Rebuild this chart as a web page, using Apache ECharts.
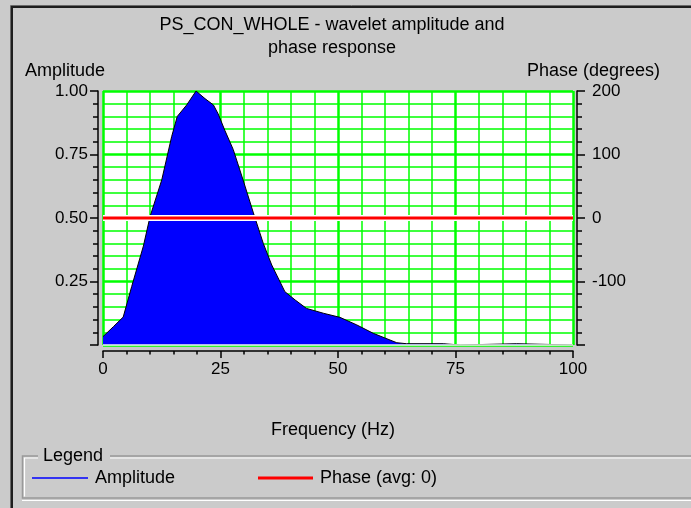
<!DOCTYPE html>
<html>
<head>
<meta charset="utf-8">
<script src="https://cdn.jsdelivr.net/npm/echarts@6/dist/echarts.min.js"></script>
<style>
  html, body { margin: 0; padding: 0; background: #cbcbcb; }
  #chart { width: 691px; height: 508px; }
</style>
</head>
<body>
<div id="chart"></div>
<script>
// Wavelet amplitude spectrum (normalised) versus frequency
const freqHz = [0, 2.2, 4.3, 6.1, 8.6, 10, 12.5, 14.6, 15.8, 17.8, 19.8, 21.7, 23.5, 24.5, 25.9, 27.7, 29.8, 32, 34.1, 35.9, 38.7, 40.9, 43.3, 46.9, 50.4, 54, 57.5, 62.5, 64.6, 72.4, 72.5, 76, 76.1, 88, 88.1, 100];
const amplitude = [0.033, 0.072, 0.11, 0.23, 0.39, 0.505, 0.65, 0.82, 0.90, 0.945, 1.0, 0.97, 0.945, 0.91, 0.846, 0.77, 0.65, 0.52, 0.40, 0.315, 0.21, 0.177, 0.144, 0.125, 0.109, 0.079, 0.046, 0.009, 0.005, 0.005, 0, 0, 0.005, 0.005, 0, 0];

// Phase response (constant)
const phaseFreq = [0, 100];
const phaseDeg = [0, 0];

const titleLines = ['PS_CON_WHOLE - wavelet amplitude and', 'phase response'];
const legendLabels = ['Amplitude', 'Phase (avg: 0)'];

const FONT = '"Liberation Sans", Arial, sans-serif';
const GREEN = '#00ff00';

const ampData = freqHz.map((f, i) => [f, amplitude[i]]);
const phaseData = phaseFreq.map((f, i) => [f, phaseDeg[i]]);

const chart = echarts.init(document.getElementById('chart'), null, { renderer: 'canvas' });

const tickStyle = { color: '#000', width: 1.5 };

chart.setOption({
  backgroundColor: '#cbcbcb',
  animation: false,
  title: {
    text: titleLines.join('\n'),
    left: 327,
    top: 9,
    textAlign: 'center',
    textStyle: { fontFamily: FONT, fontSize: 18, fontWeight: 'normal', color: '#000', lineHeight: 23 }
  },
  grid: { left: 103, right: 118, top: 91, bottom: 163, show: true, backgroundColor: '#ffffff', borderWidth: 0 },
  xAxis: {
    type: 'value', min: 0, max: 100, interval: 25, offset: 6,
    axisLine: { show: true, onZero: false, lineStyle: tickStyle },
    axisTick: { show: true, length: 7, lineStyle: tickStyle },
    minorTick: { show: true, splitNumber: 5, length: 3.5, lineStyle: tickStyle },
    axisLabel: { margin: 10, fontFamily: FONT, fontSize: 17, color: '#000' },
    splitLine: { show: true, lineStyle: { color: GREEN, width: 2.5 } },
    minorSplitLine: { show: true, lineStyle: { color: GREEN, width: 1.5 } }
  },
  yAxis: [
    {
      type: 'value', min: 0, max: 1, interval: 0.25, position: 'left', offset: 5,
      axisLine: { show: true, onZero: false, lineStyle: tickStyle },
      axisTick: { show: true, length: 8, lineStyle: tickStyle },
      minorTick: { show: true, splitNumber: 5, length: 5, lineStyle: tickStyle },
      axisLabel: { margin: 10, fontFamily: FONT, fontSize: 17, color: '#000', showMinLabel: false,
                   formatter: v => v.toFixed(2) },
      splitLine: { show: true, lineStyle: { color: GREEN, width: 2.5 } },
      minorSplitLine: { show: true, lineStyle: { color: GREEN, width: 1.5 } }
    },
    {
      type: 'value', min: -200, max: 200, interval: 100, position: 'right', offset: 4,
      axisLine: { show: true, onZero: false, lineStyle: tickStyle },
      axisTick: { show: true, length: 8, lineStyle: tickStyle },
      minorTick: { show: true, splitNumber: 5, length: 5, lineStyle: tickStyle },
      axisLabel: { margin: 15, fontFamily: FONT, fontSize: 17, color: '#000', showMinLabel: false },
      splitLine: { show: false }
    }
  ],
  series: [
    {
      name: 'Amplitude', type: 'line', data: ampData, xAxisIndex: 0, yAxisIndex: 0,
      symbol: 'none', z: 2,
      lineStyle: { color: '#000', width: 1 },
      areaStyle: { color: '#0000ff', opacity: 1 },
      markLine: {
        silent: true, symbol: 'none', label: { show: false },
        lineStyle: { color: '#f4f4f4', width: 1.5, type: 'solid' },
        data: [{ yAxis: 0 }]
      }
    },
    {
      name: 'PhaseHalo', type: 'line', data: phaseData, yAxisIndex: 1,
      symbol: 'none', z: 3, silent: true,
      lineStyle: { color: '#ffffff', width: 6 }
    },
    {
      name: 'Phase', type: 'line', data: phaseData, yAxisIndex: 1,
      symbol: 'none', z: 4,
      lineStyle: { color: '#ff0000', width: 3 }
    }
  ],
  graphic: [
    // panel frame
    { type: 'polyline', silent: true, shape: { points: [[10.5, 700], [10.5, 5.5], [700, 5.5]] },
      style: { stroke: '#6a6a6a', lineWidth: 1, fill: null } },
    { type: 'polyline', silent: true, shape: { points: [[12, 700], [12, 7], [700, 7]] },
      style: { stroke: '#1e1e1e', lineWidth: 2, fill: null } },
    // axis titles
    { type: 'text', silent: true, x: 25, y: 71,
      style: { text: 'Amplitude', font: '18px ' + FONT, fill: '#000', align: 'left', verticalAlign: 'middle' } },
    { type: 'text', silent: true, x: 660, y: 71,
      style: { text: 'Phase (degrees)', font: '18px ' + FONT, fill: '#000', align: 'right', verticalAlign: 'middle' } },
    { type: 'text', silent: true, x: 333, y: 430,
      style: { text: 'Frequency (Hz)', font: '18px ' + FONT, fill: '#000', align: 'center', verticalAlign: 'middle' } },
    // legend group box (etched)
    { type: 'polyline', silent: true, shape: { points: [[38, 456], [22.5, 456], [22.5, 498], [700, 498]] },
      style: { stroke: '#999999', lineWidth: 1.5, fill: null } },
    { type: 'line', silent: true, shape: { x1: 110, y1: 456, x2: 700, y2: 456 },
      style: { stroke: '#999999', lineWidth: 1.5 } },
    { type: 'polyline', silent: true, shape: { points: [[38, 458], [24.5, 458], [24.5, 496.5]] },
      style: { stroke: '#ffffff', lineWidth: 1.2, fill: null } },
    { type: 'line', silent: true, shape: { x1: 110, y1: 458, x2: 700, y2: 458 },
      style: { stroke: '#ffffff', lineWidth: 1.2 } },
    { type: 'line', silent: true, shape: { x1: 22, y1: 500.5, x2: 700, y2: 500.5 },
      style: { stroke: '#ffffff', lineWidth: 1.2 } },
    { type: 'text', silent: true, x: 43, y: 456,
      style: { text: 'Legend', font: '18px ' + FONT, fill: '#000', align: 'left', verticalAlign: 'middle' } },
    // legend entries
    { type: 'line', silent: true, shape: { x1: 32, y1: 478, x2: 88, y2: 478 },
      style: { stroke: '#0000ff', lineWidth: 1.5 } },
    { type: 'text', silent: true, x: 95, y: 478,
      style: { text: legendLabels[0], font: '18px ' + FONT, fill: '#000', align: 'left', verticalAlign: 'middle' } },
    { type: 'line', silent: true, shape: { x1: 258, y1: 478, x2: 313, y2: 478 },
      style: { stroke: '#ff0000', lineWidth: 3 } },
    { type: 'text', silent: true, x: 320, y: 478,
      style: { text: legendLabels[1], font: '18px ' + FONT, fill: '#000', align: 'left', verticalAlign: 'middle' } }
  ]
});
</script>
</body>
</html>
